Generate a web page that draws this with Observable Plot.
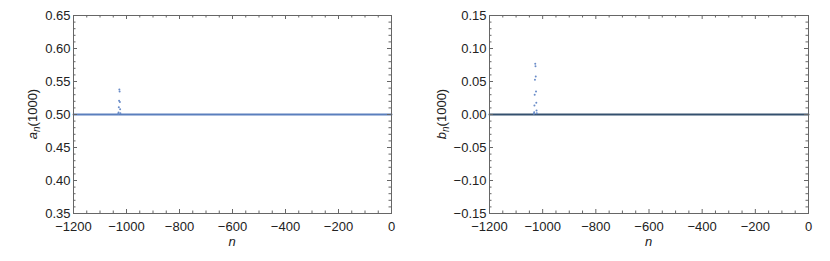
<!DOCTYPE html>
<html>
<head>
<meta charset="utf-8">
<script src="https://cdn.jsdelivr.net/npm/d3@7"></script>
<script src="https://cdn.jsdelivr.net/npm/@observablehq/plot@0.6"></script>
<style>
  html, body { margin: 0; padding: 0; background: #fff; }
  #wrap { display: flex; width: 830px; height: 261px; }
  svg { font-family: "Liberation Sans", Arial, sans-serif; }
</style>
</head>
<body>
<div id="wrap"></div>
<script>
// ---- data ----
const xDomain = [-1200, 0];
const xMajorTicks = [-1200, -1000, -800, -600, -400, -200, 0];
const xMinorTicks = [-1150, -1100, -1050, -950, -900, -850, -750, -700, -650, -550, -500, -450, -350, -300, -250, -150, -100, -50];

// left panel a_n(1000)
const aDomain = [0.35, 0.65];
const aMajorTicks = [0.35, 0.40, 0.45, 0.50, 0.55, 0.60, 0.65];
const aMinorTicks = [0.36,0.37,0.38,0.39,0.41,0.42,0.43,0.44,0.46,0.47,0.48,0.49,0.51,0.52,0.53,0.54,0.56,0.57,0.58,0.59,0.61,0.62,0.63,0.64];
const aBaseN = [-1200, -1034, -1020, 0];
const aBaseV = [0.5, 0.5, 0.5, 0.5];
const aSpikeN = [-1031, -1030, -1029, -1028, -1027, -1026, -1025, -1024, -1023];
const aSpikeV = [0.501, 0.503, 0.511, 0.521, 0.538, 0.535, 0.519, 0.508, 0.502];

// right panel b_n(1000)
const bDomain = [-0.15, 0.15];
const bMajorTicks = [-0.15, -0.10, -0.05, 0.00, 0.05, 0.10, 0.15];
const bMinorTicks = [-0.14,-0.13,-0.12,-0.11,-0.09,-0.08,-0.07,-0.06,-0.04,-0.03,-0.02,-0.01,0.01,0.02,0.03,0.04,0.06,0.07,0.08,0.09,0.11,0.12,0.13,0.14];
const bBaseN = [-1200, -1034, -1020, 0];
const bBaseV = [0, 0, 0, 0];
const bSpikeN = [-1033, -1032, -1031, -1030, -1029, -1028, -1027, -1026, -1025, -1024, -1023, -1022];
const bSpikeV = [0.001, 0.0035, 0.0136, 0.030, 0.0526, 0.077, 0.073, 0.0576, 0.035, 0.0177, 0.006, 0.002];

const fmtX = d3.format("");
function panel(opts) {
  const W = 415, H = 261;
  const mt = 15, mb = 48;
  const innerH = H - mt - mb;
  const innerW = W - opts.ml - opts.mr;
  const maj = 4, min = 2.5;
  const base = opts.baseN.map((n, i) => ({n, v: opts.baseV[i]}));
  const spike = opts.spikeN.map((n, i) => ({n, v: opts.spikeV[i]}));
  const frameCol = "#666";
  const svg = Plot.plot({
    width: W, height: H,
    marginLeft: opts.ml, marginRight: opts.mr, marginTop: mt, marginBottom: mb,
    style: {fontFamily: "Liberation Sans, Arial, sans-serif", fontSize: "13px", color: "#222", background: "#fff"},
    x: {domain: xDomain, label: null},
    y: {domain: opts.yDomain, label: null},
    marks: [
      Plot.line(base, {x: "n", y: "v", stroke: opts.lineColor, strokeWidth: 2}),
      Plot.dot(spike, {x: "n", y: "v", r: 1, fill: "#6a8cc8", stroke: "none"}),
      Plot.frame({stroke: frameCol}),
      // bottom / top ticks
      Plot.ruleX(xMajorTicks, {stroke: frameCol, insetTop: innerH - maj}),
      Plot.ruleX(xMajorTicks, {stroke: frameCol, insetBottom: innerH - maj}),
      Plot.ruleX(xMinorTicks, {stroke: frameCol, insetTop: innerH - min}),
      Plot.ruleX(xMinorTicks, {stroke: frameCol, insetBottom: innerH - min}),
      // left / right ticks
      Plot.ruleY(opts.yMajor, {stroke: frameCol, insetRight: innerW - maj}),
      Plot.ruleY(opts.yMajor, {stroke: frameCol, insetLeft: innerW - maj}),
      Plot.ruleY(opts.yMinor, {stroke: frameCol, insetRight: innerW - min}),
      Plot.ruleY(opts.yMinor, {stroke: frameCol, insetLeft: innerW - min}),
      Plot.axisX({ticks: xMajorTicks, tickSize: 0, tickPadding: 8, tickFormat: fmtX, fill: "#222"}),
      Plot.axisY({ticks: opts.yMajor, tickSize: 0, tickPadding: 3, tickFormat: d3.format(".2f"), fill: "#222"})
    ]
  });
  const s = d3.select(svg);
  // x label
  s.append("text")
    .attr("x", opts.ml + innerW / 2).attr("y", 246)
    .attr("text-anchor", "middle")
    .attr("font-size", 13).attr("font-style", "italic").attr("fill", "#222")
    .text("n");
  // y label with subscript
  const t = s.append("text")
    .attr("transform", `translate(${opts.ylx},${mt + innerH / 2}) rotate(-90)`)
    .attr("text-anchor", "middle")
    .attr("font-size", 13).attr("fill", "#222");
  t.append("tspan").attr("font-style", "italic").text(opts.sym);
  t.append("tspan").attr("font-style", "italic").attr("font-size", 10).attr("dy", 3).text("n");
  t.append("tspan").attr("dy", -3).text("(1000)");
  return svg;
}

const wrap = document.getElementById("wrap");
wrap.appendChild(panel({
  ml: 73, mr: 24, yDomain: aDomain, yMajor: aMajorTicks, yMinor: aMinorTicks,
  baseN: aBaseN, baseV: aBaseV, spikeN: aSpikeN, spikeV: aSpikeV,
  lineColor: "#5a7fbd", sym: "a", ylx: 37
}));
wrap.appendChild(panel({
  ml: 74, mr: 22, yDomain: bDomain, yMajor: bMajorTicks, yMinor: bMinorTicks,
  baseN: bBaseN, baseV: bBaseV, spikeN: bSpikeN, spikeV: bSpikeV,
  lineColor: "#34506e", sym: "b", ylx: 31
}));
</script>
</body>
</html>
